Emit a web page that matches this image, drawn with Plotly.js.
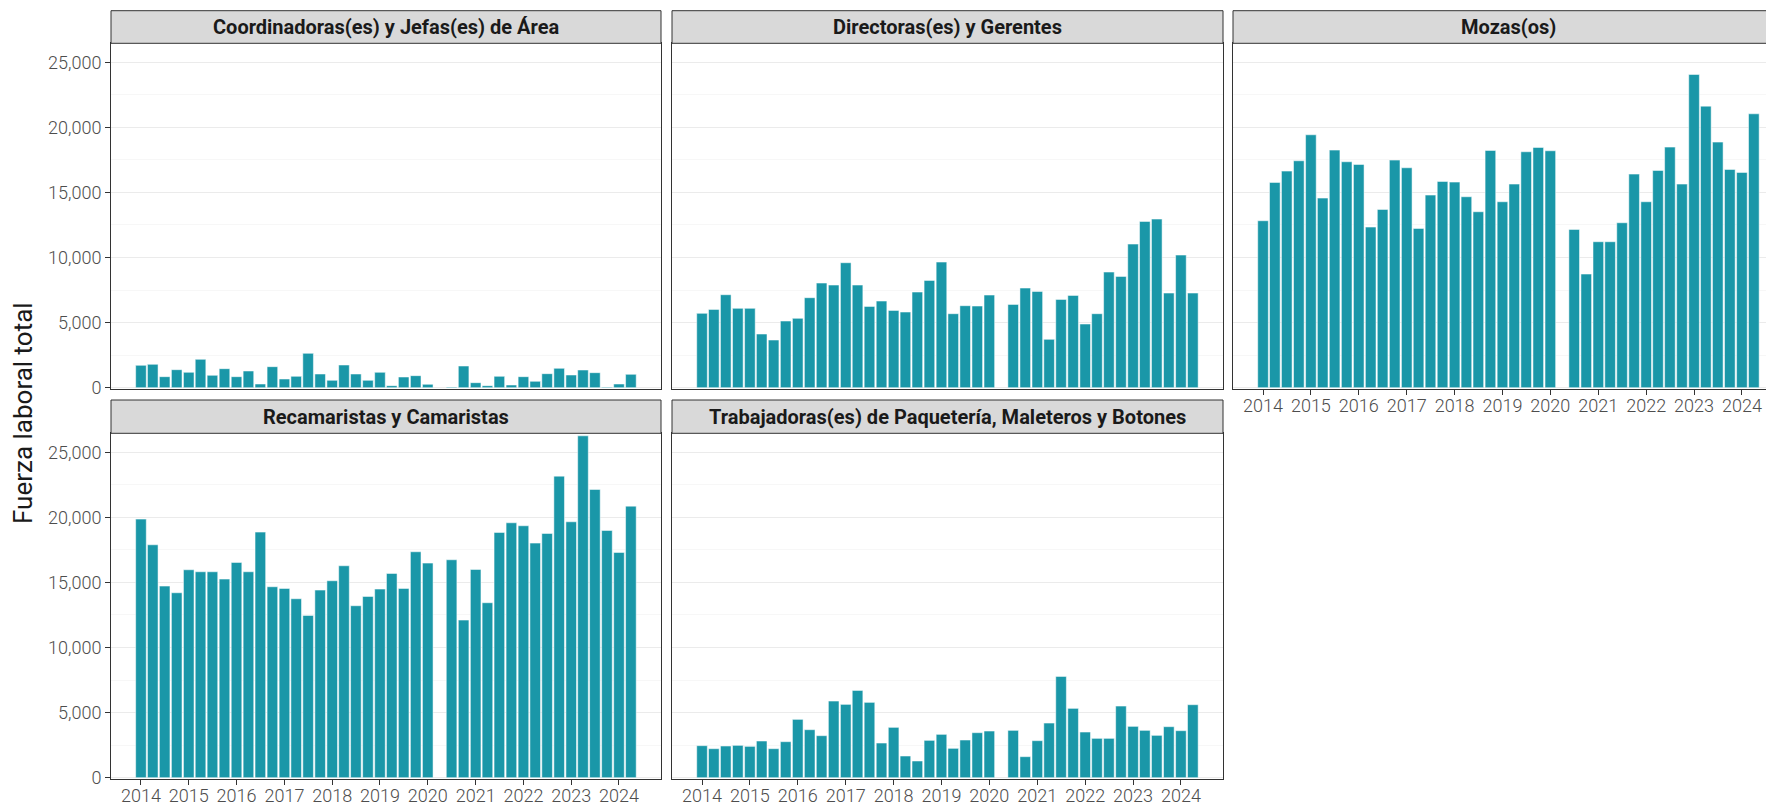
<!DOCTYPE html>
<html>
<head>
<meta charset="utf-8">
<script src="https://cdn.plot.ly/plotly-3.0.1.min.js"></script>
<style>
html, body { margin: 0; padding: 0; overflow: hidden; background: #fff; }
#chart { width: 1800px; height: 805px; }
</style>
</head>
<body>
<div id="chart"></div>
<script>
// Quarter start dates (2020Q2 missing)
const quarters = [
  '2014-01-01','2014-04-01','2014-07-01','2014-10-01',
  '2015-01-01','2015-04-01','2015-07-01','2015-10-01',
  '2016-01-01','2016-04-01','2016-07-01','2016-10-01',
  '2017-01-01','2017-04-01','2017-07-01','2017-10-01',
  '2018-01-01','2018-04-01','2018-07-01','2018-10-01',
  '2019-01-01','2019-04-01','2019-07-01','2019-10-01',
  '2020-01-01','2020-07-01','2020-10-01',
  '2021-01-01','2021-04-01','2021-07-01','2021-10-01',
  '2022-01-01','2022-04-01','2022-07-01','2022-10-01',
  '2023-01-01','2023-04-01','2023-07-01','2023-10-01',
  '2024-01-01','2024-04-01'
];

const panelTitles = [
  'Coordinadoras(es) y Jefas(es) de Área',
  'Directoras(es) y Gerentes',
  'Mozas(os)',
  'Recamaristas y Camaristas',
  'Trabajadoras(es) de Paquetería, Maleteros y Botones'
];

const coordinadoras = [1715,1792,845,1382, 1178,2176,947,1459, 845,1280,282,1613, 666,870,2637,1050,
  563,1741,1050,563, 1178,154,819,922, 256, 60,1664, 384,154,870,205, 845,486,1075,1485,
  973,1357,1152,50, 282,1024];
const directoras = [5709,6016,7142,6093, 6093,4122,3661,5120, 5325,6912,8038,7885, 9600,7885,6246,6656,
  5939,5811,7347,8243, 9651,5683,6298,6272, 7117, 6400,7654, 7398,3712,6784,7091, 4890,5683,8883,8550,
  11034,12774,12954,7270, 10189,7270];
const mozas = [12826,15770,16640,17434, 19430,14566,18253,17357, 17152,12339,13696,17485, 16896,12237,14797,15846,
  15795,14669,13517,18227, 14285,15642,18125,18458, 18202, 12160,8730, 11213,11213,12672,16410,
  14285,16691,18483,15642, 24064,21632,18867,16768, 16538,21043];
const recamaristas = [19866,17894,14720,14208, 15974,15821,15821,15258, 16538,15821,18867,14669,
  14541,13747,12467,14413, 15130,16282,13210,13926, 14490,15693,14541,17357, 16486, 16742,12109,
  16000,13440,18842,19584, 19354,18022,18765,23168, 19661,26266,22144,18995, 17306,20864];
const trabajadoras = [2458,2227,2432,2483, 2406,2816,2227,2765, 4480,3686,3226,5888, 5632,6707,5786,2662,
  3866,1664,1280,2867, 3328,2253,2893,3456, 3584, 3635,1613, 2842,4198,7782,5325,
  3507,3021,3021,5504, 3942,3635,3251,3917, 3610,5606];

const yearTickVals = ['2014-01-01','2015-01-01','2016-01-01','2017-01-01','2018-01-01','2019-01-01',
  '2020-01-01','2021-01-01','2022-01-01','2023-01-01','2024-01-01'];
const yearTickText = ['2014','2015','2016','2017','2018','2019','2020','2021','2022','2023','2024'];
const yTickVals = [0, 5000, 10000, 15000, 20000, 25000];
const yTickText = ['0','5,000','10,000','15,000','20,000','25,000'];

const W = 1800, H = 805;
const BAR_COLOR = '#1a97a8';
const cols = [[111, 661], [672, 1223], [1233, 1784]];
const rows = [[43.3, 389.3], [433.3, 779.3]];      // panel top/bottom in px
const strips = [[10.7, 43.3], [400, 433.3]];       // strip top/bottom in px
const px2x = p => p / W;
const px2y = p => 1 - p / H;

const series = [coordinadoras, directoras, mozas, recamaristas, trabajadoras];
const pos = [[0,0],[0,1],[0,2],[1,0],[1,1]];
const barWidth = 81 * 86400000;

const traces = series.map((vals, i) => ({
  type: 'bar',
  x: quarters,
  y: vals,
  xaxis: 'x' + (i === 0 ? '' : i + 1),
  yaxis: 'y' + (i === 0 ? '' : i + 1),
  width: barWidth,
  marker: { color: BAR_COLOR, line: { color: 'rgba(255,255,255,0.85)', width: 0.6 } },
  hoverinfo: 'x+y',
  showlegend: false
}));

const tickFont = { family: 'Roboto, sans-serif', size: 18, color: '#4d4d4d', weight: 300 };

const layout = {
  width: W, height: H,
  margin: { l: 0, r: 0, t: 0, b: 0 },
  paper_bgcolor: '#ffffff',
  plot_bgcolor: '#ffffff',
  bargap: 0,
  shapes: [],
  annotations: []
};

pos.forEach(([r, c], i) => {
  const sfx = i === 0 ? '' : String(i + 1);
  const showX = (r === 1) || (r === 0 && c === 2);
  const showY = (c === 0);
  layout['xaxis' + sfx] = {
    type: 'date',
    domain: [px2x(cols[c][0]), px2x(cols[c][1])],
    anchor: 'y' + sfx,
    range: ['2013-05-17', '2024-11-17'],
    tickmode: 'array',
    tickvals: yearTickVals,
    ticktext: yearTickText,
    showticklabels: showX,
    ticks: showX ? 'outside' : '',
    ticklen: 5, tickwidth: 1, tickcolor: '#333333',
    ticklabelstandoff: -5,
    tickfont: tickFont,
    showgrid: false, zeroline: false,
    showline: true, mirror: true, linecolor: '#333333', linewidth: 1,
    fixedrange: true
  };
  layout['yaxis' + sfx] = {
    domain: [px2y(rows[r][1]), px2y(rows[r][0])],
    anchor: 'x' + sfx,
    range: [-125, 26460],
    tickmode: 'array',
    tickvals: yTickVals,
    ticktext: yTickText,
    showticklabels: showY,
    ticks: showY ? 'outside' : '',
    ticklen: 5, tickwidth: 1, tickcolor: '#333333',
    tickfont: tickFont,
    showgrid: true, gridcolor: '#ebebeb', gridwidth: 1.2,
    minor: { dtick: 2500, tick0: 0, showgrid: true, gridcolor: '#f3f3f3', gridwidth: 0.7, ticks: '' },
    zeroline: false,
    showline: true, mirror: true, linecolor: '#333333', linewidth: 1,
    fixedrange: true
  };
  // strip
  layout.shapes.push({
    type: 'rect', xref: 'paper', yref: 'paper',
    x0: px2x(cols[c][0]), x1: px2x(cols[c][1]),
    y0: px2y(strips[r][1]), y1: px2y(strips[r][0]),
    fillcolor: '#d9d9d9', line: { color: '#333333', width: 1 }, layer: 'above'
  });
  layout.annotations.push({
    xref: 'paper', yref: 'paper',
    x: px2x((cols[c][0] + cols[c][1]) / 2),
    y: px2y((strips[r][0] + strips[r][1]) / 2),
    xanchor: 'center', yanchor: 'middle',
    text: panelTitles[i], showarrow: false,
    font: { family: 'Roboto, sans-serif', size: 20, color: '#1a1a1a', weight: 700 }
  });
});

layout.annotations.push({
  xref: 'paper', yref: 'paper',
  x: px2x(23), y: px2y(413),
  xanchor: 'center', yanchor: 'middle',
  text: 'Fuerza laboral total', textangle: -90, showarrow: false,
  font: { family: 'Roboto, sans-serif', size: 26, color: '#1a1a1a' }
});

Plotly.newPlot('chart', traces, layout, { displayModeBar: false, staticPlot: true });
</script>
</body>
</html>
